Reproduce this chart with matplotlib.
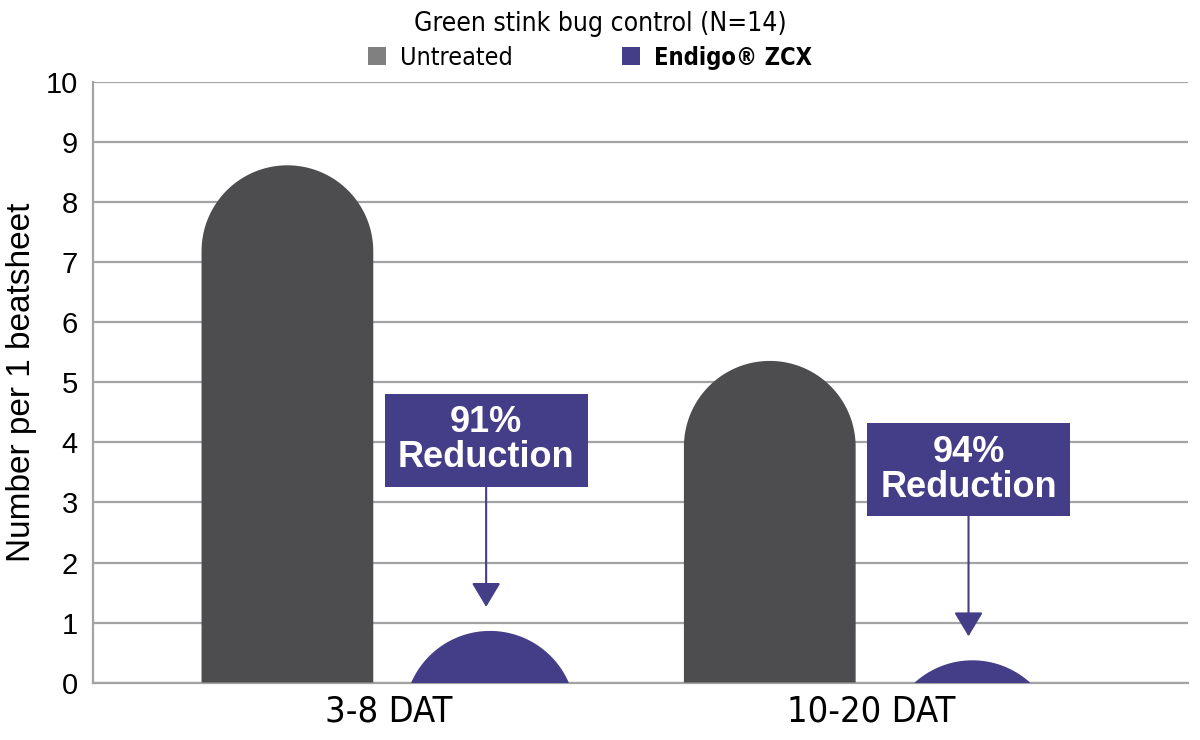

# Green stink bug control chart: untreated vs Endigo ZCX, rounded-top bars
import numpy as np
import matplotlib
matplotlib.use("Agg")
import matplotlib.pyplot as plt
from matplotlib.patches import Polygon, Rectangle, Patch
from matplotlib.font_manager import FontProperties

categories = ["3-8 DAT", "10-20 DAT"]
untreated = [8.62, 5.36]
endigo = [0.86, 0.37]
reductions = ["91%", "94%"]
series_names = ["Untreated", "Endigo® ZCX"]

DARK = "#4d4d4f"
LEGEND_GRAY = "#808080"
PURPLE = "#443d87"
GRID = "#a3a3a3"
SANS = ["Liberation Sans", "DejaVu Sans"]


def narrow(size, weight="normal"):
    return FontProperties(family="DejaVu Sans", stretch="condensed",
                          size=size, weight=weight)


W, H = 1200, 740
fig = plt.figure(figsize=(W / 100, H / 100), dpi=100)
ax = fig.add_axes([93 / W, 1 - 682.5 / H, (1188 - 93) / W, (682.5 - 82.5) / H])

x = np.arange(len(categories))
offset = 0.21
width = 0.356
ax.set_xlim(-0.613, 1.657)
ax.set_ylim(0, 10)

# vertical radius (in data units) that makes the cap a true half circle on screen
bb = ax.get_window_extent()
px_x = bb.width / (ax.get_xlim()[1] - ax.get_xlim()[0])
px_y = bb.height / (ax.get_ylim()[1] - ax.get_ylim()[0])
rx = width / 2
ry = rx * px_x / px_y


def rounded_bar(xc, h, color):
    c = h - ry
    t = np.linspace(0, np.pi, 80)
    arc = np.column_stack([xc + rx * np.cos(t), c + ry * np.sin(t)])
    base = min(0, c)
    pts = np.vstack([[xc + rx, base], arc, [xc - rx, base]])
    p = Polygon(pts, closed=True, facecolor=color, edgecolor="none", zorder=3)
    ax.add_patch(p)


for i in x:
    rounded_bar(i - offset, untreated[i], DARK)
    rounded_bar(i + offset, endigo[i], PURPLE)

# reduction call-out boxes with arrows
box_w, box_h = 0.421, 1.55
for i in x:
    xc = i + offset - 0.008
    tip = endigo[i] + 0.4
    bottom = tip + 2.0
    ax.add_patch(Rectangle((xc - box_w / 2, bottom), box_w, box_h,
                           facecolor=PURPLE, edgecolor="none", zorder=4))
    ax.text(xc, bottom + box_h / 2, f"{reductions[i]}\nReduction", ha="center",
            va="center", color="white", fontsize=26, fontweight="bold",
            family=SANS, linespacing=1.0, zorder=5)
    ax.annotate("", xy=(xc, tip), xytext=(xc, bottom),
                arrowprops=dict(arrowstyle="-|>,head_length=0.75,head_width=0.45",
                                mutation_scale=20, color=PURPLE, lw=1.5,
                                shrinkA=0, shrinkB=0),
                zorder=4)

ax.set_yticks(range(0, 11))
ax.set_xticks(x)
ax.set_xticklabels(categories, fontproperties=narrow(26))
for lab in ax.get_yticklabels():
    lab.set_family(SANS)
    lab.set_fontsize(21)
ax.tick_params(axis="both", length=0)
ax.tick_params(axis="y", pad=11)
ax.tick_params(axis="x", pad=9)
ax.yaxis.grid(True, color=GRID, lw=1.6, zorder=0)
ax.set_axisbelow(True)
for s in ["top", "right"]:
    ax.spines[s].set_visible(False)
for s in ["left", "bottom"]:
    ax.spines[s].set_color(GRID)
    ax.spines[s].set_linewidth(1.6)

fig.text(22 / W, 1 - 382 / H, "Number per 1 beatsheet", rotation=90,
         ha="center", va="center", fontsize=24, family=SANS)
fig.text(600 / W, 1 - 24 / H, "Green stink bug control (N=14)", ha="center",
         va="center", fontproperties=narrow(19))

handles = [Patch(facecolor=LEGEND_GRAY), Patch(facecolor=PURPLE)]
leg = fig.legend(handles, series_names, loc="center", ncol=2,
                 bbox_to_anchor=(590 / W, 1 - 58 / H), frameon=False,
                 handlelength=0.72, handleheight=0.72, handletextpad=0.56,
                 columnspacing=4.4, prop=narrow(18))
leg.get_texts()[1].set_fontproperties(narrow(17, "bold"))

fig.savefig("out.png", dpi=100)
